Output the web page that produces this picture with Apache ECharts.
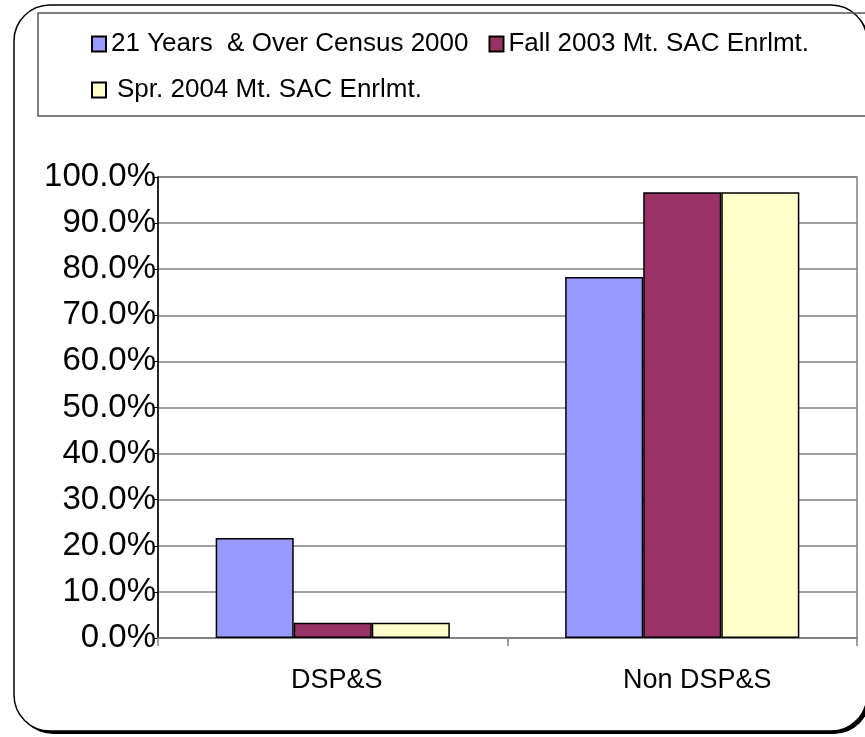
<!DOCTYPE html>
<html>
<head>
<meta charset="utf-8">
<script src="https://cdn.jsdelivr.net/npm/echarts@6/dist/echarts.min.js"></script>
<style>
  html, body { margin: 0; padding: 0; background: #fff; }
  #chart { width: 865px; height: 737px; }
</style>
</head>
<body>
<div id="chart"></div>
<script>
// Enrollment share by group (percent)
const categories = ['DSP&S', 'Non DSP&S'];
const seriesNames = ['21 Years  & Over Census 2000', 'Fall 2003 Mt. SAC Enrlmt.', 'Spr. 2004 Mt. SAC Enrlmt.'];
const census2000 = [21.7, 78.3];
const fall2003 = [3.3, 96.7];
const spring2004 = [3.3, 96.7];
const yTicks = { min: 0, max: 100, interval: 10 };

const FONT = 'Arial, "Liberation Sans", sans-serif';
const colors = ['#9999FF', '#993366', '#FFFFCC'];
const values = [census2000, fall2003, spring2004];

const chart = echarts.init(document.getElementById('chart'), null, { renderer: 'canvas' });

chart.setOption({
  animation: false,
  backgroundColor: '#fff',
  graphic: [
    // drop shadow of the chart frame
    {
      type: 'rect', z: -30, silent: true,
      shape: { x: 17, y: 8, width: 853, height: 726, r: 36 },
      style: { fill: '#000', stroke: 'none' }
    },
    // chart frame
    {
      type: 'rect', z: -20, silent: true,
      shape: { x: 14, y: 5, width: 853, height: 726, r: 36 },
      style: { fill: '#fff', stroke: '#000', lineWidth: 1.5 }
    },
    // legend frame
    {
      type: 'rect', z: -10, silent: true,
      shape: { x: 38, y: 13, width: 860, height: 103 },
      style: { fill: 'none', stroke: '#555', lineWidth: 1.5 }
    }
  ],
  legend: [
    {
      data: [seriesNames[0], seriesNames[1]],
      left: 86, top: 24, orient: 'horizontal',
      itemWidth: 14, itemHeight: 15, itemGap: 20,
      icon: 'rect', selectedMode: false,
      textStyle: { fontFamily: FONT, fontSize: 26, color: '#000', lineHeight: 30 }
    },
    {
      data: [seriesNames[2]],
      left: 86, top: 70, orient: 'horizontal',
      itemWidth: 14, itemHeight: 15,
      icon: 'rect', selectedMode: false,
      textStyle: { fontFamily: FONT, fontSize: 26, color: '#000', lineHeight: 30, padding: [0, 0, 0, 6] }
    }
  ],
  grid: {
    left: 158, top: 177, right: 8, bottom: 99,
    show: true, borderColor: '#808080', borderWidth: 1.5, backgroundColor: 'transparent',
    containLabel: false
  },
  xAxis: {
    type: 'category',
    data: categories,
    axisLine: { show: true, lineStyle: { color: '#808080', width: 1.5 } },
    axisTick: { show: true, length: 8, alignWithLabel: false, lineStyle: { color: '#808080', width: 1.5 } },
    splitLine: { show: false },
    axisLabel: {
      margin: 28,
      fontFamily: FONT, fontSize: 27, color: '#000', lineHeight: 30,
      formatter: function (v, i) { return i === 0 ? '{a|' + v + '}' : '{b|' + v + '}'; },
      rich: {
        a: { fontFamily: FONT, fontSize: 27, color: '#000', padding: [0, 0, 0, 8] },
        b: { fontFamily: FONT, fontSize: 27, color: '#000', padding: [0, 0, 0, 30] }
      }
    }
  },
  yAxis: {
    type: 'value',
    min: yTicks.min, max: yTicks.max, interval: yTicks.interval,
    axisLine: { show: true, lineStyle: { color: '#000', width: 1.5 } },
    axisTick: { show: true, inside: false, length: 5, lineStyle: { color: '#000', width: 1 } },
    splitLine: { show: true, lineStyle: { color: '#808080', width: 1.5 } },
    axisLabel: {
      margin: 2,
      fontFamily: FONT, fontSize: 33, color: '#000',
      formatter: function (v) { return v.toFixed(1) + '%'; }
    }
  },
  series: seriesNames.map(function (name, i) {
    return {
      name: name,
      type: 'bar',
      data: values[i],
      barGap: '0%',
      barCategoryGap: '33%',
      itemStyle: { color: colors[i], borderColor: '#000', borderWidth: 1.5 },
      emphasis: { disabled: true }
    };
  })
});
</script>
</body>
</html>
